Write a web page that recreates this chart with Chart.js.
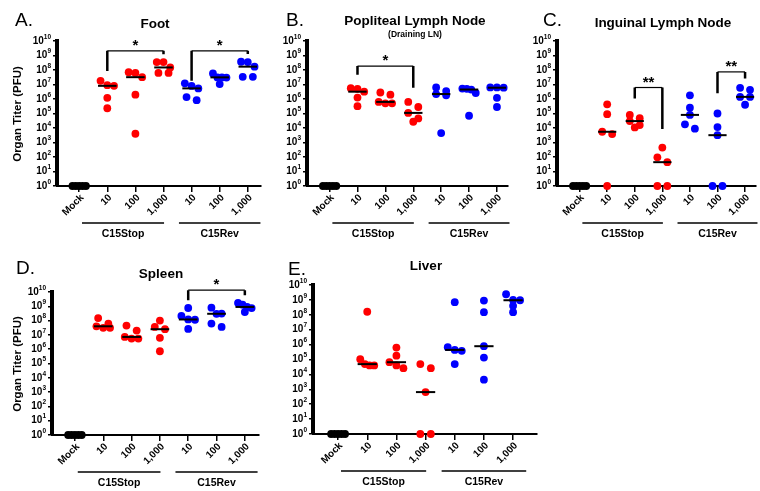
<!DOCTYPE html>
<html>
<head>
<meta charset="utf-8">
<script src="https://cdn.jsdelivr.net/npm/chart.js@4.4.0/dist/chart.umd.min.js"></script>
<style>
  body { margin: 0; background: #fff; }
  #fig { position: relative; width: 760px; height: 491px; overflow: hidden; }
  #fig canvas { position: absolute; }
</style>
</head>
<body>
<div id="fig"></div>
<script>
// categories along each x axis
const categories = ['Mock', '10', '100', '1,000', '10', '100', '1,000'];
const groupLabels = ['C15Stop', 'C15Rev'];
const yTickValues = [1, 1e1, 1e2, 1e3, 1e4, 1e5, 1e6, 1e7, 1e8, 1e9, 1e10];
const yTickExponents = ['0', '1', '2', '3', '4', '5', '6', '7', '8', '9', '10'];

// organ titers (PFU), one list per category: Mock, Stop 10/100/1000, Rev 10/100/1000
const footTiters = [
  [1, 1, 1, 1, 1],
  [1.8e7, 9e6, 8.1e6, 1.2e6, 2.3e5],
  [7e7, 6.3e7, 3.2e7, 2e6, 4e3],
  [3.5e8, 3.5e8, 1.5e8, 6.3e7, 6.3e7],
  [1.2e7, 8e6, 5.4e6, 1.35e6, 8.3e5],
  [5.8e7, 3.1e7, 3.1e7, 3e7, 1.07e7],
  [3.7e8, 3.5e8, 1.7e8, 3.4e7, 3.4e7]
];
const poplitealTiters = [
  [1, 1, 1, 1, 1],
  [5.6e6, 5e6, 3.2e6, 1.26e6, 3.2e5],
  [2.8e6, 2e6, 6.3e5, 5e5, 5e5],
  [6.3e5, 2.8e5, 1.1e5, 4.6e4, 2.7e4],
  [6.3e6, 3.5e6, 2.2e6, 1.8e6, 4.5e3],
  [5.2e6, 5e6, 4.5e6, 2.6e6, 7e4],
  [6.3e6, 6.3e6, 6e6, 1.2e6, 2.8e5]
];
const inguinalTiters = [
  [1, 1, 1, 1, 1],
  [4.3e5, 9e4, 5.5e3, 3.8e3, 1],
  [8e4, 4.7e4, 3e4, 1.6e4, 1.1e4],
  [450, 95, 44, 1, 1],
  [1.8e6, 2.5e5, 8e4, 1.8e4, 9e3],
  [1e5, 1.15e4, 3.2e3, 1, 1],
  [5.9e6, 4.3e6, 1.4e6, 1.4e6, 4e5]
];
const spleenTiters = [
  [1, 1, 1, 1, 1],
  [1.5e8, 6e7, 4e7, 3.1e7, 3.1e7],
  [4.5e7, 2e7, 7.2e6, 5.5e6, 5.5e6],
  [1e8, 3.6e7, 2.5e7, 6.2e6, 7.2e5],
  [7.6e8, 2.1e8, 1.2e8, 1.15e8, 2.6e7],
  [8e8, 3.1e8, 3e8, 6.2e7, 3.6e7],
  [1.7e9, 1.3e9, 9e8, 7.5e8, 4e8]
];
const liverTiters = [
  [1, 1, 1, 1, 1],
  [1.6e8, 1.05e5, 4.9e4, 4e4, 4e4],
  [6.3e5, 1.8e5, 6.6e4, 4e4, 2.6e4],
  [4.9e4, 2.6e4, 650, 1, 1],
  [7e8, 6.7e5, 4.4e5, 3.8e5, 4.9e4],
  [9e8, 1.5e8, 7.8e5, 1.35e5, 4.4e3],
  [2.4e9, 1e9, 9.5e8, 4e8, 1.5e8]
];

// significance brackets
const footBrackets = [
  { from: 1, to: 3, top: 2.1e9, leftEnd: 8.7e7, rightEnd: 1.2e9, mark: '*' },
  { from: 4, to: 6, top: 2.1e9, leftEnd: 1.8e7, rightEnd: 1.26e9, mark: '*' }
];
const poplitealBrackets = [
  { from: 1, to: 3, top: 1.86e8, leftEnd: 4.7e7, rightEnd: 5.9e6, mark: '*' }
];
const inguinalBrackets = [
  { from: 2, to: 3, top: 6.2e6, leftEnd: 1.1e6, rightEnd: 8.5e3, mark: '**' },
  { from: 5, to: 6, top: 7.4e7, leftEnd: 2.5e6, rightEnd: 2.6e7, mark: '**' }
];
const spleenBrackets = [
  { from: 4, to: 6, top: 1.35e10, leftEnd: 2.6e9, rightEnd: 5.9e9, mark: '*' }
];
const liverBrackets = [];

const FONT = '"Liberation Sans", Arial, sans-serif';
const RED = '#ff0000';
const BLUE = '#0000ff';
const groupSpans = [[0.1, 3.02], [3.55, 6.45]];

// page layout of the five panels
const panels = [
  { letter: 'A.', title: 'Foot', data: footTiters, brackets: footBrackets,
    box: [0, 0, 265, 245], plot: [57, 41, 261, 186], xRange: [-0.79, 6.47],
    letterAt: [15, 26], titleAt: [155, 28], yTitleAt: [18, 114] },
  { letter: 'B.', title: 'Popliteal Lymph Node', sub: '(Draining LN)', data: poplitealTiters, brackets: poplitealBrackets,
    box: [250, 0, 262, 245], plot: [307, 41, 511, 186], xRange: [-0.81, 6.4],
    letterAt: [286, 26], titleAt: [415, 25], subAt: [415, 36.5] },
  { letter: 'C.', title: 'Inguinal Lymph Node', data: inguinalTiters, brackets: inguinalBrackets,
    box: [500, 0, 260, 245], plot: [557, 41, 760, 186], xRange: [-0.82, 6.4],
    letterAt: [543, 26], titleAt: [663, 26.5] },
  { letter: 'D.', title: 'Spleen', data: spleenTiters, brackets: spleenBrackets,
    box: [0, 245, 265, 246], plot: [52, 292, 259, 435], xRange: [-0.81, 6.5],
    letterAt: [16, 274], titleAt: [161, 278], yTitleAt: [18, 364] },
  { letter: 'E.', title: 'Liver', data: liverTiters, brackets: liverBrackets,
    box: [255, 245, 290, 246], plot: [313, 285, 537, 434], xRange: [-0.86, 6.82],
    letterAt: [288, 275], titleAt: [426, 270] }
];

const fig = document.getElementById('fig');

function median(vals) {
  const s = vals.slice().sort((a, b) => a - b);
  return s[Math.floor(s.length / 2)];
}

// spread points that sit at about the same height into a row
function spread(vals) {
  const order = vals.map((v, i) => i).sort((a, b) => vals[b] - vals[a]);
  const offs = new Array(vals.length).fill(0);
  const rows = [];
  order.forEach(i => {
    const lv = Math.log10(vals[i]);
    const row = rows[rows.length - 1];
    if (row && row.top - lv < 0.42) row.items.push(i);
    else rows.push({ top: lv, items: [i] });
  });
  rows.forEach(r => {
    const n = r.items.length;
    const step = n > 1 ? Math.min(0.36, 0.48 / (n - 1)) : 0;
    r.items.forEach((i, k) => { offs[i] = (k - (n - 1) / 2) * step; });
  });
  return offs;
}

function groupColor(i) {
  if (i === 0) return '#000';
  return i <= 3 ? RED : BLUE;
}

function annotate(p) {
  const [bx, by] = p.box;
  return {
    id: 'annotate',
    afterDraw(chart) {
      const ctx = chart.ctx;
      const xs = chart.scales.x, ys = chart.scales.y, ca = chart.chartArea;
      ctx.save();
      ctx.fillStyle = '#000';
      ctx.strokeStyle = '#000';

      // panel letter and titles
      ctx.font = `19px ${FONT}`;
      ctx.textAlign = 'left';
      ctx.textBaseline = 'alphabetic';
      ctx.fillText(p.letter, p.letterAt[0] - bx, p.letterAt[1] - by);
      ctx.font = `bold 13.5px ${FONT}`;
      ctx.textAlign = 'center';
      ctx.fillText(p.title, p.titleAt[0] - bx, p.titleAt[1] - by);
      if (p.sub) {
        ctx.font = `bold 8.5px ${FONT}`;
        ctx.fillText(p.sub, p.subAt[0] - bx, p.subAt[1] - by);
      }
      if (p.yTitleAt) {
        ctx.save();
        ctx.translate(p.yTitleAt[0] - bx, p.yTitleAt[1] - by);
        ctx.rotate(-Math.PI / 2);
        ctx.font = `bold 11.5px ${FONT}`;
        ctx.textBaseline = 'middle';
        ctx.fillText('Organ Titer (PFU)', 0, 0);
        ctx.restore();
      }

      // y tick labels as 10 with a superscript
      yTickValues.forEach((v, e) => {
        const y = ys.getPixelForValue(v);
        ctx.textAlign = 'right';
        ctx.textBaseline = 'middle';
        ctx.font = `bold 6.5px ${FONT}`;
        const supW = ctx.measureText(yTickExponents[e]).width;
        ctx.fillText(yTickExponents[e], ca.left - 6, y - 4);
        ctx.font = `bold 10px ${FONT}`;
        ctx.fillText('10', ca.left - 6 - supW, y);
      });

      // rotated category labels
      ctx.font = `bold 10px ${FONT}`;
      categories.forEach((c, i) => {
        const x = xs.getPixelForValue(i);
        ctx.save();
        ctx.translate(x + 3, ca.bottom + 10);
        ctx.rotate(-Math.PI / 4);
        ctx.textAlign = 'right';
        ctx.textBaseline = 'middle';
        ctx.fillText(c, 0, 0);
        ctx.restore();
      });

      // group lines and names
      ctx.lineWidth = 1.5;
      ctx.font = `bold 10.5px ${FONT}`;
      ctx.textAlign = 'center';
      ctx.textBaseline = 'alphabetic';
      groupSpans.forEach((s, g) => {
        const x1 = xs.getPixelForValue(s[0]), x2 = xs.getPixelForValue(s[1]);
        ctx.beginPath();
        ctx.moveTo(x1, ca.bottom + 37);
        ctx.lineTo(x2, ca.bottom + 37);
        ctx.stroke();
        ctx.fillText(groupLabels[g], (x1 + x2) / 2, ca.bottom + 51);
      });

      // significance brackets
      p.brackets.forEach(b => {
        const x1 = xs.getPixelForValue(b.from), x2 = xs.getPixelForValue(b.to);
        const yt = ys.getPixelForValue(b.top);
        ctx.lineWidth = 2.5;
        ctx.beginPath();
        ctx.moveTo(x1, ys.getPixelForValue(b.leftEnd));
        ctx.lineTo(x1, yt);
        ctx.moveTo(x2, ys.getPixelForValue(b.rightEnd));
        ctx.lineTo(x2, yt);
        ctx.stroke();
        ctx.lineWidth = 1.2;
        ctx.beginPath();
        ctx.moveTo(x1, yt);
        ctx.lineTo(x2, yt);
        ctx.stroke();
        ctx.font = `bold 15px ${FONT}`;
        ctx.textAlign = 'center';
        ctx.textBaseline = 'alphabetic';
        ctx.fillText(b.mark, (x1 + x2) / 2, yt - 1);
      });
      ctx.restore();
    }
  };
}

function buildPanel(p) {
  const [bx, by, bw, bh] = p.box;
  const [pl, pt, pr, pb] = p.plot;
  const cv = document.createElement('canvas');
  cv.width = bw;
  cv.height = bh;
  cv.style.left = bx + 'px';
  cv.style.top = by + 'px';
  fig.appendChild(cv);

  const datasets = [];
  p.data.forEach((vals, i) => {
    const offs = spread(vals);
    datasets.push({
      type: 'scatter',
      data: vals.map((v, k) => ({ x: i + offs[k], y: v })),
      backgroundColor: groupColor(i),
      pointRadius: 3.9,
      pointHoverRadius: 3.9,
      borderWidth: 0,
      order: 2,
      clip: false
    });
    const m = median(vals);
    datasets.push({
      type: 'line',
      data: [{ x: i - 0.33, y: m }, { x: i + 0.33, y: m }],
      borderColor: '#000',
      borderWidth: 2,
      pointRadius: 0,
      order: 1,
      clip: false
    });
  });

  new Chart(cv, {
    type: 'scatter',
    data: { datasets },
    options: {
      responsive: false,
      animation: false,
      devicePixelRatio: 1,
      layout: { padding: { top: pt - by, right: bx + bw - pr, left: 0, bottom: 0 } },
      plugins: { legend: { display: false }, tooltip: { enabled: false } },
      scales: {
        x: {
          type: 'linear',
          min: p.xRange[0],
          max: p.xRange[1],
          afterBuildTicks: s => { s.ticks = categories.map((c, i) => ({ value: i })); },
          afterFit: s => { s.height = by + bh - pb; },
          ticks: { display: false },
          grid: { drawOnChartArea: false, drawTicks: true, tickLength: 6, color: '#000', lineWidth: 1.5 },
          border: { color: '#000', width: 2 }
        },
        y: {
          type: 'logarithmic',
          min: 1,
          max: 1e10,
          afterBuildTicks: s => { s.ticks = yTickValues.map(v => ({ value: v })); },
          afterFit: s => { s.width = pl - bx; },
          ticks: { display: false },
          grid: { drawOnChartArea: false, drawTicks: true, tickLength: 4, color: '#000', lineWidth: 1.5 },
          border: { color: '#000', width: 4 }
        }
      }
    },
    plugins: [annotate(p)]
  });
}

panels.forEach(buildPanel);
</script>
</body>
</html>
